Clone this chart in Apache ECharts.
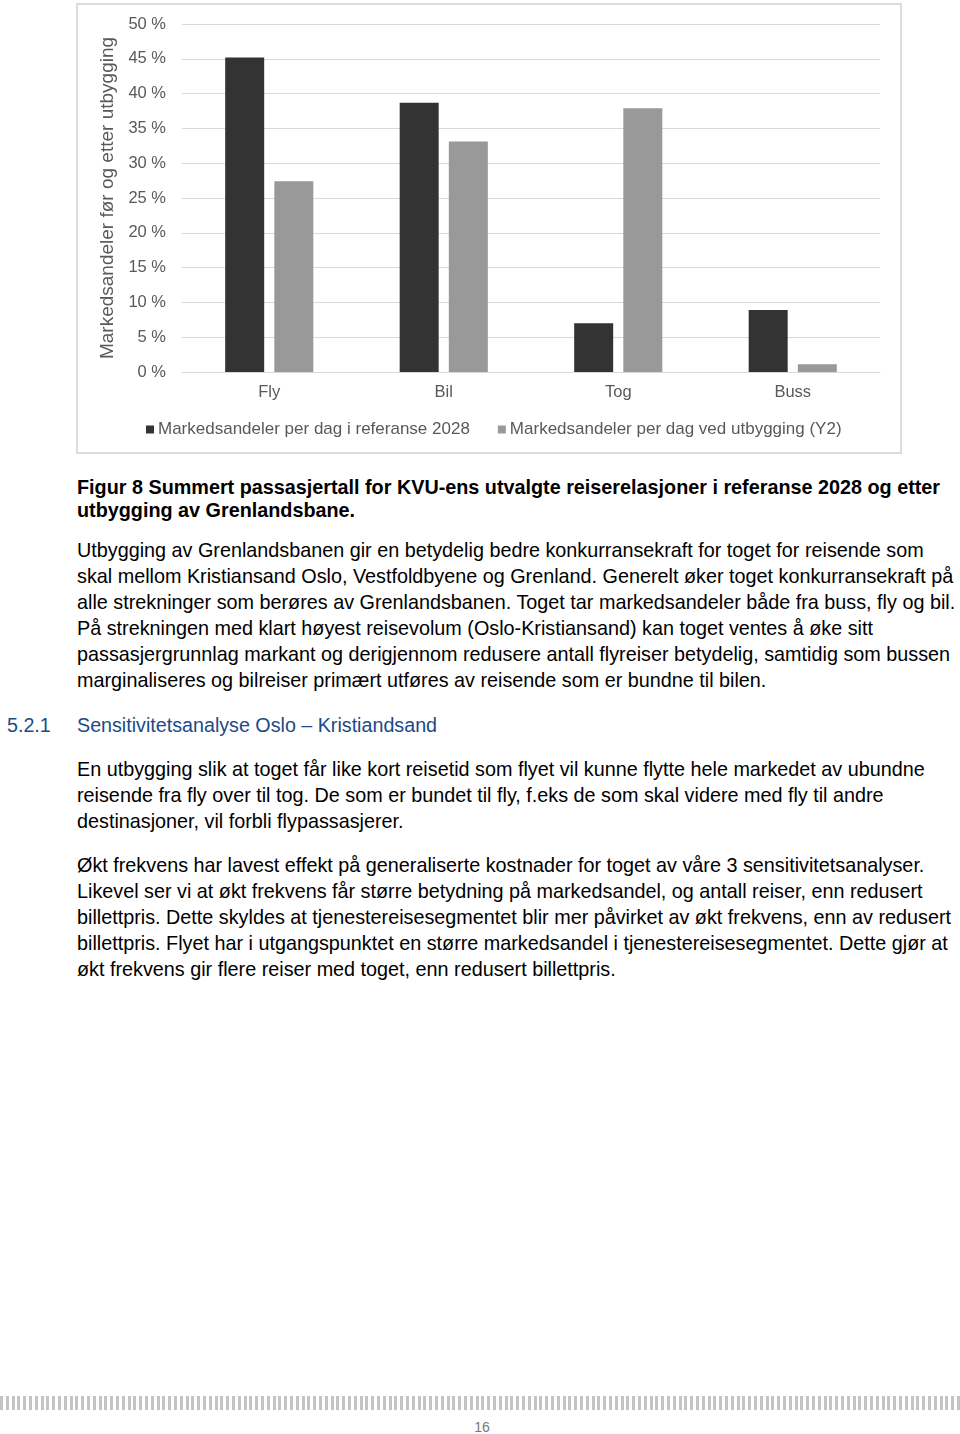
<!DOCTYPE html>
<html>
<head>
<meta charset="utf-8">
<script src="https://cdn.jsdelivr.net/npm/echarts@6/dist/echarts.min.js"></script>
<style>
  html, body { margin: 0; padding: 0; background: #fff; }
  body { width: 960px; height: 1434px; position: relative; overflow: hidden;
         font-family: "Liberation Sans", Arial, sans-serif; color: #000; }
  #chart { position: absolute; left: 76px; top: 3px; width: 822px; height: 447px;
           border: 2px solid #dcdcdc; }
  .blk { position: absolute; left: 77px; white-space: nowrap; font-size: 19.8px; line-height: 26px; }
  .cap { font-weight: bold; line-height: 23px; }
  .h { position: absolute; top: 712px; font-size: 19.7px; line-height: 26px; color: #1b4a87; white-space: nowrap; }
  #bars { position: absolute; left: 0; top: 1396px; width: 960px; height: 14px;
          background: repeating-linear-gradient(90deg, #c4c4c4 0px, #c4c4c4 3px, #fff 3px, #fff 5.8px); }
  #pg { position: absolute; top: 1419px; left: 0; width: 964px; text-align: center; font-size: 14px; color: #777; }
</style>
</head>
<body>
<div id="chart"></div>

<div class="blk cap" style="top:476px">Figur 8 Summert passasjertall for KVU-ens utvalgte reiserelasjoner i referanse 2028 og etter<br>utbygging av Grenlandsbane.</div>

<div class="blk" style="top:537px">Utbygging av Grenlandsbanen gir en betydelig bedre konkurransekraft for toget for reisende som<br>skal mellom Kristiansand Oslo, Vestfoldbyene og Grenland. Generelt øker toget konkurransekraft på<br>alle strekninger som berøres av Grenlandsbanen. Toget tar markedsandeler både fra buss, fly og bil.<br>På strekningen med klart høyest reisevolum (Oslo-Kristiansand) kan toget ventes å øke sitt<br>passasjergrunnlag markant og derigjennom redusere antall flyreiser betydelig, samtidig som bussen<br>marginaliseres og bilreiser primært utføres av reisende som er bundne til bilen.</div>

<div class="h" style="left:7px">5.2.1</div>
<div class="h" style="left:77px">Sensitivitetsanalyse Oslo – Kristiandsand</div>

<div class="blk" style="top:756px">En utbygging slik at toget får like kort reisetid som flyet vil kunne flytte hele markedet av ubundne<br>reisende fra fly over til tog. De som er bundet til fly, f.eks de som skal videre med fly til andre<br>destinasjoner, vil forbli flypassasjerer.</div>

<div class="blk" style="top:852px">Økt frekvens har lavest effekt på generaliserte kostnader for toget av våre 3 sensitivitetsanalyser.<br>Likevel ser vi at økt frekvens får større betydning på markedsandel, og antall reiser, enn redusert<br>billettpris. Dette skyldes at tjenestereisesegmentet blir mer påvirket av økt frekvens, enn av redusert<br>billettpris. Flyet har i utgangspunktet en større markedsandel i tjenestereisesegmentet. Dette gjør at<br>økt frekvens gir flere reiser med toget, enn redusert billettpris.</div>

<div id="bars"></div>
<div id="pg">16</div>

<script>
const categories = ['Fly', 'Bil', 'Tog', 'Buss'];
const seriesNames = ['Markedsandeler per dag i referanse 2028', 'Markedsandeler per dag ved utbygging (Y2)'];
const reference2028 = [45.2, 38.7, 7.0, 8.9];
const utbyggingY2 = [27.4, 33.1, 37.9, 1.1];
const yTicks = { min: 0, max: 50, interval: 5 };
const yAxisTitle = 'Markedsandeler før og etter utbygging';

const chart = echarts.init(document.getElementById('chart'));
chart.setOption({
  animation: false,
  textStyle: { fontFamily: '"Liberation Sans", Arial, sans-serif' },
  grid: { left: 104, right: 20, top: 19, bottom: 80 },
  legend: {
    top: 411, left: 63,
    icon: 'rect', itemWidth: 8, itemHeight: 8, itemGap: 28,
    textStyle: { color: '#595959', fontSize: 17, padding: [0, 0, 0, -1] },
    data: seriesNames
  },
  xAxis: {
    type: 'category', data: categories,
    axisLine: { lineStyle: { color: '#d9d9d9' } },
    axisTick: { show: false },
    axisLabel: { color: '#595959', fontSize: 16.5, margin: 12 }
  },
  yAxis: {
    type: 'value', min: yTicks.min, max: yTicks.max, interval: yTicks.interval,
    name: yAxisTitle, nameLocation: 'middle', nameGap: 58,
    nameTextStyle: { color: '#595959', fontSize: 19 },
    axisLine: { show: false }, axisTick: { show: false },
    axisLabel: { color: '#595959', fontSize: 16.5, margin: 16, formatter: '{value} %' },
    splitLine: { lineStyle: { color: '#d9d9d9' } }
  },
  series: [
    { name: seriesNames[0], type: 'bar', data: reference2028, barWidth: 39, barGap: '26%',
      itemStyle: { color: '#333333' } },
    { name: seriesNames[1], type: 'bar', data: utbyggingY2, barWidth: 39,
      itemStyle: { color: '#999999' } }
  ]
});
</script>
</body>
</html>
